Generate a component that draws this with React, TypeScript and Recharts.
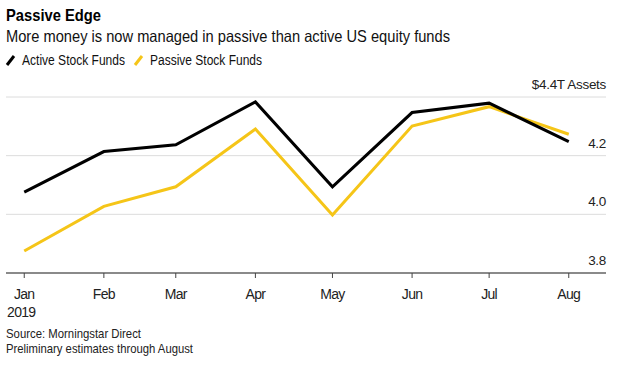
import React from "react";
import { LineChart, Line, XAxis, YAxis, CartesianGrid } from "recharts";

// Days since Jan 1, 2019 for each month start
const monthLabels = ["Jan", "Feb", "Mar", "Apr", "May", "Jun", "Jul", "Aug"];
const monthDays = [0, 31, 59, 90, 120, 151, 181, 212];
const activeFunds = [4.076, 4.214, 4.237, 4.383, 4.094, 4.347, 4.379, 4.248];
const passiveFunds = [3.875, 4.027, 4.094, 4.291, 3.998, 4.301, 4.367, 4.273];
const yTicks = [3.8, 4.0, 4.2, 4.4];

const data = monthDays.map((d, i) => ({
  day: d,
  active: activeFunds[i],
  passive: passiveFunds[i],
}));

const FONT = "'Liberation Sans', Arial, Helvetica, sans-serif";
const BLACK = "#000000";
const YELLOW = "#F5C518";

const XTick = (props: any) => {
  const { x, y, payload } = props;
  const idx = monthDays.indexOf(payload.value);
  return (
    <g>
      <text x={x} y={y + 19} textAnchor="middle" fontSize={14} fill="#222" fontFamily={FONT} letterSpacing={-0.7}>
        {monthLabels[idx]}
      </text>
      {idx === 0 && (
        <text x={x - 3} y={y + 37} textAnchor="middle" fontSize={14} fill="#222" fontFamily={FONT} letterSpacing={-0.7}>
          2019
        </text>
      )}
    </g>
  );
};

const YTick = (props: any) => {
  const { y, payload } = props;
  const v = payload.value;
  const label = v === 4.4 ? "$4.4T Assets" : v.toFixed(1);
  return (
    <text x={606} y={y - 8} textAnchor="end" fontSize={13.5} fill="#222" fontFamily={FONT} letterSpacing={-0.3}>
      {label}
    </text>
  );
};

export default function App() {
  return (
    <div style={{ position: "absolute", left: 0, top: 0, width: 624, height: 369, background: "#fff" }}>
      <LineChart
        width={624}
        height={369}
        data={data}
        margin={{ top: 97, right: 0, bottom: 66, left: 6 }}
      >
        <CartesianGrid horizontal vertical={false} stroke="#dcdcdc" strokeWidth={1} />
        <XAxis
          dataKey="day"
          type="number"
          domain={[-7.1, 226.5]}
          ticks={monthDays}
          interval={0}
          height={30}
          axisLine={{ stroke: "#8a8a8a", strokeWidth: 2 }}
          tickLine={{ stroke: "#444", strokeWidth: 1 }}
          tickSize={5}
          tick={<XTick />}
        />
        <YAxis
          orientation="right"
          width={18}
          domain={[3.8, 4.4]}
          ticks={yTicks}
          interval={0}
          axisLine={false}
          tickLine={false}
          tick={<YTick />}
        />
        <Line
          type="linear"
          dataKey="passive"
          stroke={YELLOW}
          strokeWidth={3}
          dot={false}
          isAnimationActive={false}
        />
        <Line
          type="linear"
          dataKey="active"
          stroke={BLACK}
          strokeWidth={3}
          dot={false}
          isAnimationActive={false}
        />
      </LineChart>
      <svg
        width={624}
        height={369}
        style={{ position: "absolute", left: 0, top: 0, pointerEvents: "none" }}
      >
        <text x={6} y={21} fontSize={17} fontWeight="bold" fill="#000" fontFamily={FONT} textLength={95} lengthAdjust="spacingAndGlyphs">
          Passive Edge
        </text>
        <text x={6} y={42} fontSize={16.5} fill="#111" fontFamily={FONT} textLength={444} lengthAdjust="spacingAndGlyphs">
          More money is now managed in passive than active US equity funds
        </text>
        <line x1={7} y1={65} x2={14} y2={56} stroke={BLACK} strokeWidth={3} />
        <text x={22} y={65} fontSize={14} fill="#111" fontFamily={FONT} textLength={103} lengthAdjust="spacingAndGlyphs">
          Active Stock Funds
        </text>
        <line x1={135} y1={65} x2={142} y2={56} stroke={YELLOW} strokeWidth={3} />
        <text x={150} y={65} fontSize={14} fill="#111" fontFamily={FONT} textLength={112} lengthAdjust="spacingAndGlyphs">
          Passive Stock Funds
        </text>
        <text x={6} y={338} fontSize={13} fill="#222" fontFamily={FONT} textLength={135} lengthAdjust="spacingAndGlyphs">
          Source: Morningstar Direct
        </text>
        <text x={6} y={353} fontSize={13} fill="#222" fontFamily={FONT} textLength={187} lengthAdjust="spacingAndGlyphs">
          Preliminary estimates through August
        </text>
      </svg>
    </div>
  );
}
